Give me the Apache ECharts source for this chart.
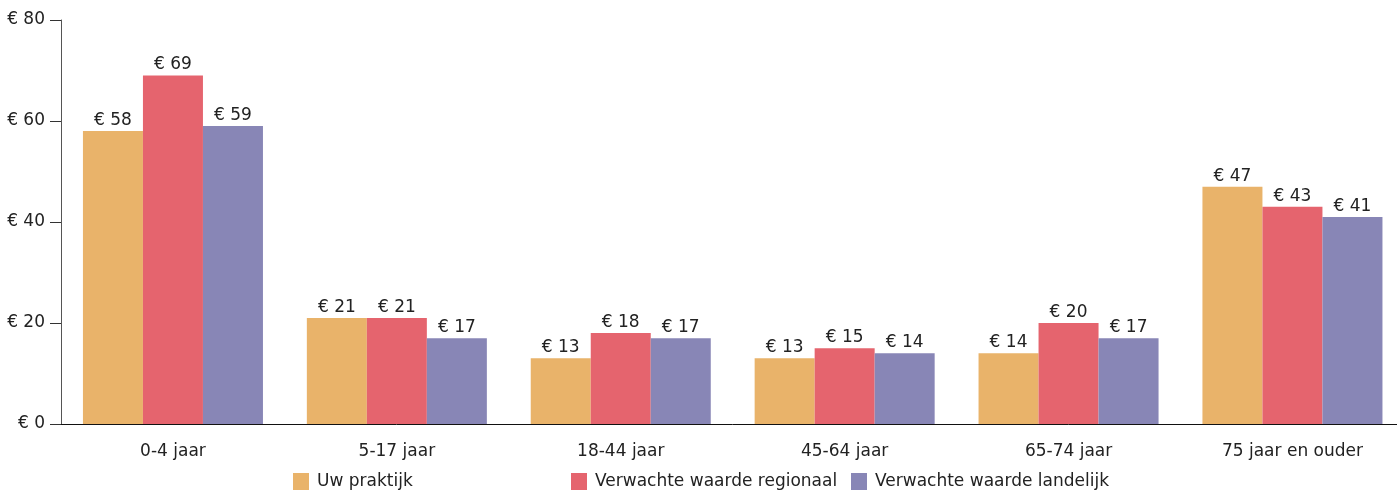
<!DOCTYPE html>
<html><head><meta charset="utf-8">
<script src="https://cdn.jsdelivr.net/npm/echarts@6/dist/echarts.min.js"></script>
<style>html,body{margin:0;padding:0;background:#fff;overflow:hidden}#c{width:1405px;height:494px}</style>
</head><body><div id="c"></div>
<script>
const categories = ['0-4 jaar','5-17 jaar','18-44 jaar','45-64 jaar','65-74 jaar','75 jaar en ouder'];
const seriesNames = ['Uw praktijk','Verwachte waarde regionaal','Verwachte waarde landelijk'];
const praktijk = [58,21,13,13,14,47];
const regionaal = [69,21,18,15,20,43];
const landelijk = [59,17,17,14,17,41];
const colors = ['#E9B36A','#E5646E','#8886B6'];
const FONT = 'DejaVu Sans';
const FS = 17;
const chart = echarts.init(document.getElementById('c'));
const mk = (name, data, color) => ({
  name, type:'bar', data, barGap:'0%', barCategoryGap:'19.6%',
  itemStyle:{color},
  label:{show:true, position:'top', distance:2, color:'#222', fontFamily:FONT, fontSize:FS,
    formatter:p=>'€ '+p.value}
});
const legendLefts = [293,571,851];
chart.setOption({
  animation:false,
  textStyle:{fontFamily:FONT},
  grid:{left:61, right:0.6, top:20, bottom:70, containLabel:false},
  legend: seriesNames.map((n,i)=>({data:[n], left:legendLefts[i], top:473, padding:0, itemWidth:16, itemHeight:17, itemGap:8,
    icon:'rect', textStyle:{fontFamily:FONT, fontSize:FS, color:'#222', padding:[0,0,0,3]}})),
  xAxis:{type:'category', data:categories,
    axisLine:{lineStyle:{color:'#111', width:1}},
    axisTick:{alignWithLabel:true, length:8, lineStyle:{color:'#666'}},
    axisLabel:{fontFamily:FONT, fontSize:FS, color:'#222', margin:19}},
  yAxis:{type:'value', min:0, max:80, interval:20,
    axisLine:{show:true, lineStyle:{color:'#555'}},
    axisTick:{show:true, inside:false, length:11, lineStyle:{color:'#333'}},
    splitLine:{show:false},
    axisLabel:{fontFamily:FONT, fontSize:FS, color:'#222', margin:16, formatter:v=>'€ '+v}},
  series:[mk(seriesNames[0],praktijk,colors[0]), mk(seriesNames[1],regionaal,colors[1]), mk(seriesNames[2],landelijk,colors[2])]
});
</script></body></html>
